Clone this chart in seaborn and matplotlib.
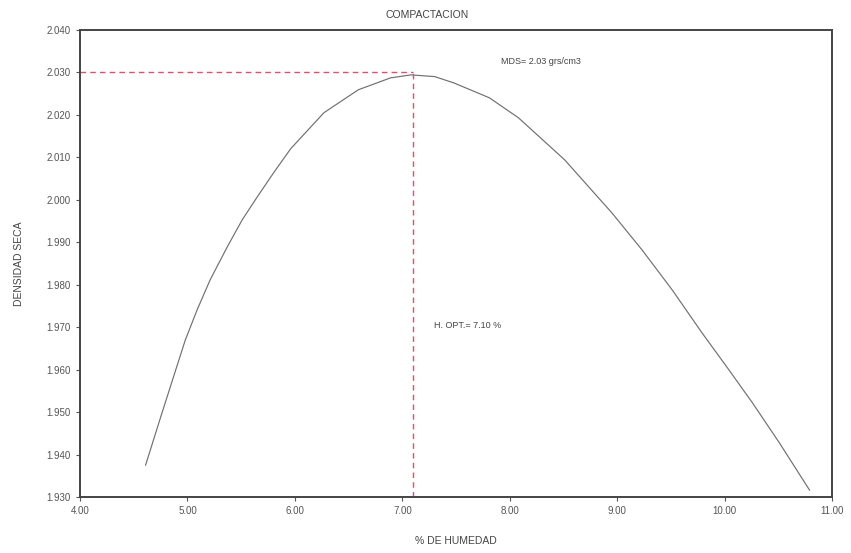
import matplotlib
matplotlib.use("Agg")
import matplotlib.pyplot as plt
import seaborn as sns
import pandas as pd

# Data
humedad = [4.61, 4.75, 4.87, 4.98, 5.09, 5.21, 5.37, 5.51, 5.65, 5.80, 5.96,
           6.27, 6.59, 6.89, 7.08, 7.30, 7.48, 7.81, 8.08, 8.51, 8.95, 9.23,
           9.51, 9.79, 10.04, 10.26, 10.51, 10.79]
densidad = [1.9375, 1.9488, 1.9583, 1.9670, 1.9741, 1.9811, 1.9889, 1.9953,
            2.0007, 2.0063, 2.0120, 2.0205, 2.0259, 2.0287, 2.0294, 2.0290,
            2.0275, 2.0240, 2.0193, 2.0094, 1.9969, 1.9882, 1.9788, 1.9686,
            1.9599, 1.9521, 1.9427, 1.9316]
h_opt = 7.10
mds = 2.030
x_ticks = [4.0, 5.0, 6.0, 7.0, 8.0, 9.0, 10.0, 11.0]
y_ticks = [1.930, 1.940, 1.950, 1.960, 1.970, 1.980, 1.990, 2.000, 2.010, 2.020, 2.030, 2.040]

sns.set_theme(style="white")
plt.rcParams['font.family'] = ['Liberation Sans', 'DejaVu Sans']

fig = plt.figure(figsize=(8.51, 5.53), dpi=100)
ax = fig.add_axes([0.094, 0.101, 0.884, 0.845])

df = pd.DataFrame({"humedad": humedad, "densidad": densidad})
sns.lineplot(data=df, x="humedad", y="densidad", ax=ax, sort=False,
             estimator=None, color="#707070", linewidth=0.85)

red = "#e0506a"
ax.plot([x_ticks[0], h_opt], [mds, mds], color=red, linestyle=(0, (4, 3)), linewidth=1.0)
ax.plot([h_opt, h_opt], [y_ticks[0], mds], color=red, linestyle=(0, (4, 3)), linewidth=1.0)

ax.set_xlim(4.0, 11.0)
ax.set_ylim(1.930, 2.040)
ax.set_xticks(x_ticks)
ax.set_yticks(y_ticks)
ax.set_xticklabels([f"{v:.2f}" for v in x_ticks])
ax.set_yticklabels([f"{v:.3f}" for v in y_ticks])
ax.tick_params(axis="both", labelsize=7, colors="#555555", length=3, width=0.8,
               direction="out", left=True, bottom=True)

for s in ax.spines.values():
    s.set_color("#444444")
    s.set_linewidth(1.4)

ax.set_xlabel("% DE HUMEDAD", fontsize=7.5, color="#444444", labelpad=14)
ax.set_ylabel("DENSIDAD SECA", fontsize=7.5, color="#444444", labelpad=16)
fig.text(0.502, 0.972, "COMPACTACION", ha="center", va="center", fontsize=7.5,
         color="#444444")

ax.text(7.92, 2.0325, "MDS= 2.03 grs/cm3", fontsize=6.5, color="#444444",
        ha="left", va="center")
ax.text(7.29, 1.9705, "H. OPT.= 7.10 %", fontsize=6.5, color="#444444",
        ha="left", va="center")

fig.savefig("out.png", dpi=100)
